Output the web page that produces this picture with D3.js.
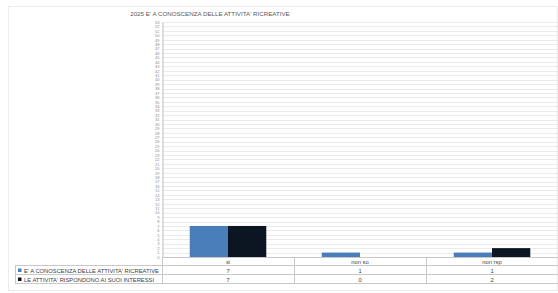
<!DOCTYPE html>
<html>
<head>
<meta charset="utf-8">
<script src="https://cdn.jsdelivr.net/npm/d3@7"></script>
<style>
  body { margin: 0; background: #fff; font-family: "Liberation Sans", Arial, sans-serif; }
</style>
</head>
<body>
<script>
var categories = ['si', 'non so', 'non rsp'];
var seriesNames = ["E' A CONOSCENZA DELLE ATTIVITA' RICREATIVE", "LE ATTIVITA' RISPONDONO AI SUOI INTERESSI"];
var conoscenza = [7, 1, 1];
var interessi = [7, 0, 2];
var yTicks = d3.range(0, 54);

(function() {
    var width = 558, height = 293;
    var colors = ['#4a7ebb', '#0c1522'];
    var series = [conoscenza, interessi];

    var svg = d3.select('body').append('svg')
        .attr('width', width)
        .attr('height', height);

    // outer frame
    svg.append('rect')
        .attr('x', 8.5).attr('y', 6.5)
        .attr('width', 549).attr('height', 284)
        .attr('fill', '#fff')
        .attr('stroke', '#ececec');

    var plotLeft = 162, plotRight = 558, plotTop = 22, plotBottom = 257;

    var x = d3.scaleBand().domain(categories).range([plotLeft, plotRight]);
    var x1 = d3.scaleBand().domain([0, 1]).range([0, x.bandwidth() * 0.58]);
    var y = d3.scaleLinear().domain([0, 53]).range([plotBottom, plotTop]);

    svg.append('text')
        .attr('x', 210).attr('y', 16)
        .attr('text-anchor', 'middle')
        .attr('font-size', 6.2)
        .attr('fill', '#595959')
        .text("2025 E' A CONOSCENZA DELLE ATTIVITA' RICREATIVE");

    // gridlines
    svg.append('g')
        .selectAll('line')
        .data(yTicks)
        .enter().append('line')
        .attr('x1', plotLeft).attr('x2', plotRight)
        .attr('y1', function(d) { return Math.round(y(d)) + 0.5; })
        .attr('y2', function(d) { return Math.round(y(d)) + 0.5; })
        .attr('stroke', '#e6e6e6')
        .attr('stroke-width', 0.8);

    // y axis
    var yAxis = d3.axisLeft(y).tickValues(yTicks).tickSize(0).tickPadding(3);
    var gy = svg.append('g')
        .attr('transform', 'translate(' + (plotLeft + 0.5) + ',0)')
        .call(yAxis);
    gy.select('.domain').attr('stroke', '#bfbfbf');
    gy.selectAll('text')
        .attr('font-size', 4)
        .attr('fill', '#8a8a8a');

    // bars
    var groups = svg.append('g')
        .selectAll('g')
        .data(categories)
        .enter().append('g')
        .attr('transform', function(d) {
            return 'translate(' + (x(d) + x.bandwidth() * 0.21) + ',0)';
        });

    groups.selectAll('rect')
        .data(function(d, i) { return series.map(function(s, k) { return { k: k, v: s[i] }; }); })
        .enter().append('rect')
        .attr('x', function(d) { return x1(d.k); })
        .attr('width', x1.bandwidth())
        .attr('y', function(d) { return y(d.v); })
        .attr('height', function(d) { return plotBottom - y(d.v); })
        .attr('fill', function(d) { return colors[d.k]; });

    // data table
    var rowH = 9;
    var tableLeft = 15;
    var lineColor = '#c8c8c8';
    var tbl = svg.append('g').attr('font-size', 5.8).attr('fill', '#404040');

    tbl.append('line').attr('x1', plotLeft).attr('x2', plotRight)
        .attr('y1', plotBottom + 0.5).attr('y2', plotBottom + 0.5).attr('stroke', lineColor);
    categories.forEach(function(c) {
        tbl.append('text')
            .attr('x', x(c) + x.bandwidth() / 2)
            .attr('y', plotBottom + 6.5)
            .attr('text-anchor', 'middle')
            .text(c);
    });
    for (var r = 1; r <= 3; r++) {
        tbl.append('line')
            .attr('x1', tableLeft).attr('x2', plotRight)
            .attr('y1', plotBottom + r * rowH - 0.5).attr('y2', plotBottom + r * rowH - 0.5)
            .attr('stroke', lineColor);
    }
    tbl.append('line').attr('x1', tableLeft + 0.5).attr('x2', tableLeft + 0.5)
        .attr('y1', plotBottom + rowH).attr('y2', plotBottom + 3 * rowH).attr('stroke', lineColor);
    categories.forEach(function(c, i) {
        var xx = Math.round(x(c)) + 0.5;
        tbl.append('line').attr('x1', xx).attr('x2', xx)
            .attr('y1', plotBottom).attr('y2', plotBottom + 3 * rowH).attr('stroke', lineColor);
    });

    series.forEach(function(s, k) {
        var ry = plotBottom + (k + 1) * rowH;
        tbl.append('rect')
            .attr('x', tableLeft + 3).attr('y', ry + 2.5)
            .attr('width', 3.5).attr('height', 3.5)
            .attr('fill', colors[k]);
        tbl.append('text')
            .attr('x', tableLeft + 9).attr('y', ry + 6.5)
            .text(seriesNames[k]);
        s.forEach(function(v, i) {
            tbl.append('text')
                .attr('x', x(categories[i]) + x.bandwidth() / 2)
                .attr('y', ry + 6.5)
                .attr('text-anchor', 'middle')
                .text(v);
        });
    });
})();
</script>
</body>
</html>
